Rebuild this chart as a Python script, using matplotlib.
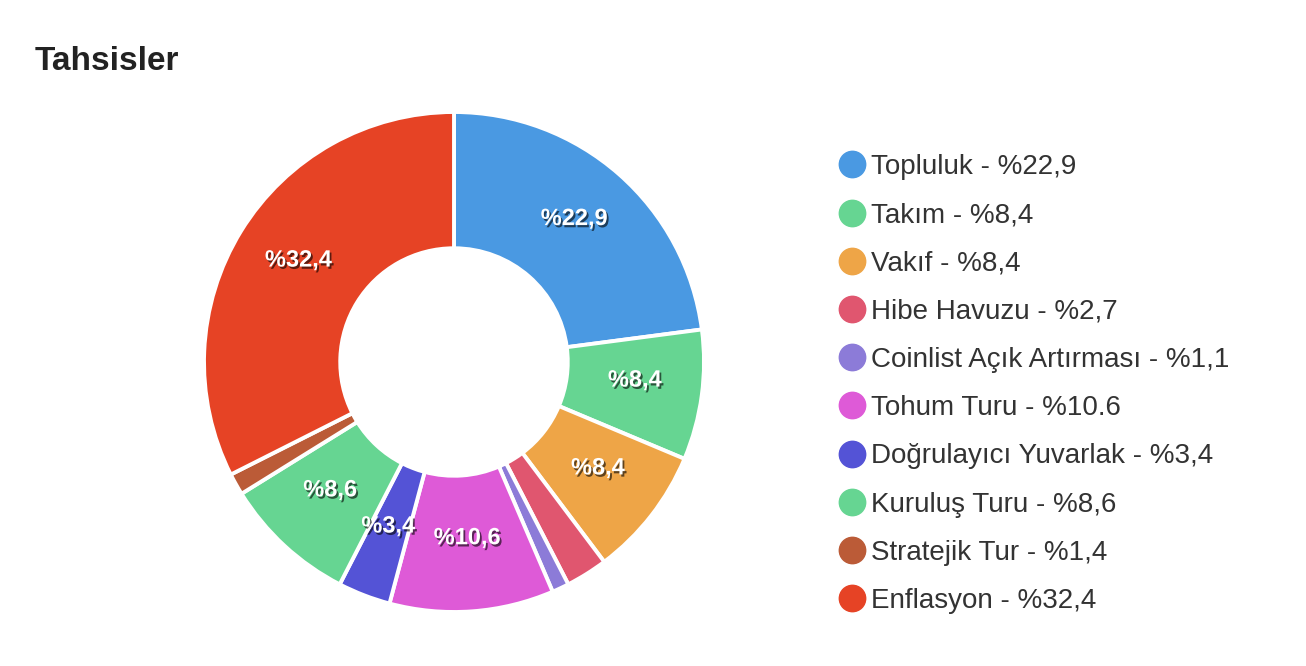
import matplotlib
matplotlib.use("Agg")
import matplotlib.pyplot as plt
from matplotlib.lines import Line2D
import matplotlib.patheffects as pe
import numpy as np

plt.rcParams['font.family'] = ['Liberation Sans', 'DejaVu Sans']

title = "Tahsisler"
categories = ["Topluluk", "Takım", "Vakıf", "Hibe Havuzu", "Coinlist Açık Artırması",
              "Tohum Turu", "Doğrulayıcı Yuvarlak", "Kuruluş Turu", "Stratejik Tur", "Enflasyon"]
values = [22.9, 8.4, 8.4, 2.7, 1.1, 10.6, 3.4, 8.6, 1.4, 32.4]
value_labels = ["22,9", "8,4", "8,4", "2,7", "1,1", "10.6", "3,4", "8,6", "1,4", "32,4"]
slice_labels = ["%22,9", "%8,4", "%8,4", "", "", "%10,6", "%3,4", "%8,6", "", "%32,4"]
colors = ["#4a99e2", "#66d592", "#eea547", "#e0566f", "#8c7bd8",
          "#de5ad7", "#5453d6", "#66d592", "#bb5b37", "#e64325"]

W, H = 1306, 666
fig = plt.figure(figsize=(W / 100, H / 100), dpi=100)
fig.patch.set_facecolor("white")

cx, cy, R = 454, 362, 250
ax = fig.add_axes([(cx - R) / W, (H - cy - R) / H, 2 * R / W, 2 * R / H])
wedges, _ = ax.pie(values, colors=colors, startangle=90, counterclock=False,
                   radius=1.0, wedgeprops=dict(width=0.545, edgecolor="white", linewidth=2.8))
ax.set_xlim(-1, 1)
ax.set_ylim(-1, 1)
ax.set_aspect("equal")
ax.axis("off")

for w, lab in zip(wedges, slice_labels):
    if not lab:
        continue
    ang = np.deg2rad((w.theta1 + w.theta2) / 2)
    r = 0.73
    t = ax.text(r * np.cos(ang), r * np.sin(ang) + 0.025, lab, ha="center", va="center",
                color="white", fontsize=17, fontweight="bold")
    t.set_path_effects([pe.withSimplePatchShadow(offset=(1.3, -1.6), shadow_rgbFace="black", alpha=0.6)])

fig.text(35 / W, 1 - 61 / H, title, fontsize=24, fontweight="bold", color="#222222",
         ha="left", va="center")

handles = [Line2D([0], [0], marker="o", linestyle="", markersize=19,
                  markerfacecolor=c, markeredgecolor=c) for c in colors]
labels = [f"{c} - %{v}" for c, v in zip(categories, value_labels)]
leg = fig.legend(handles, labels, loc="upper left", bbox_to_anchor=(838 / W, 1 - 154 / H),
                 frameon=False, fontsize=20, labelspacing=0.80, handlelength=1.0,
                 handletextpad=0.2, borderaxespad=0, borderpad=0)
for t in leg.get_texts():
    t.set_color("#333333")

fig.savefig("out.png", dpi=100, facecolor="white")
